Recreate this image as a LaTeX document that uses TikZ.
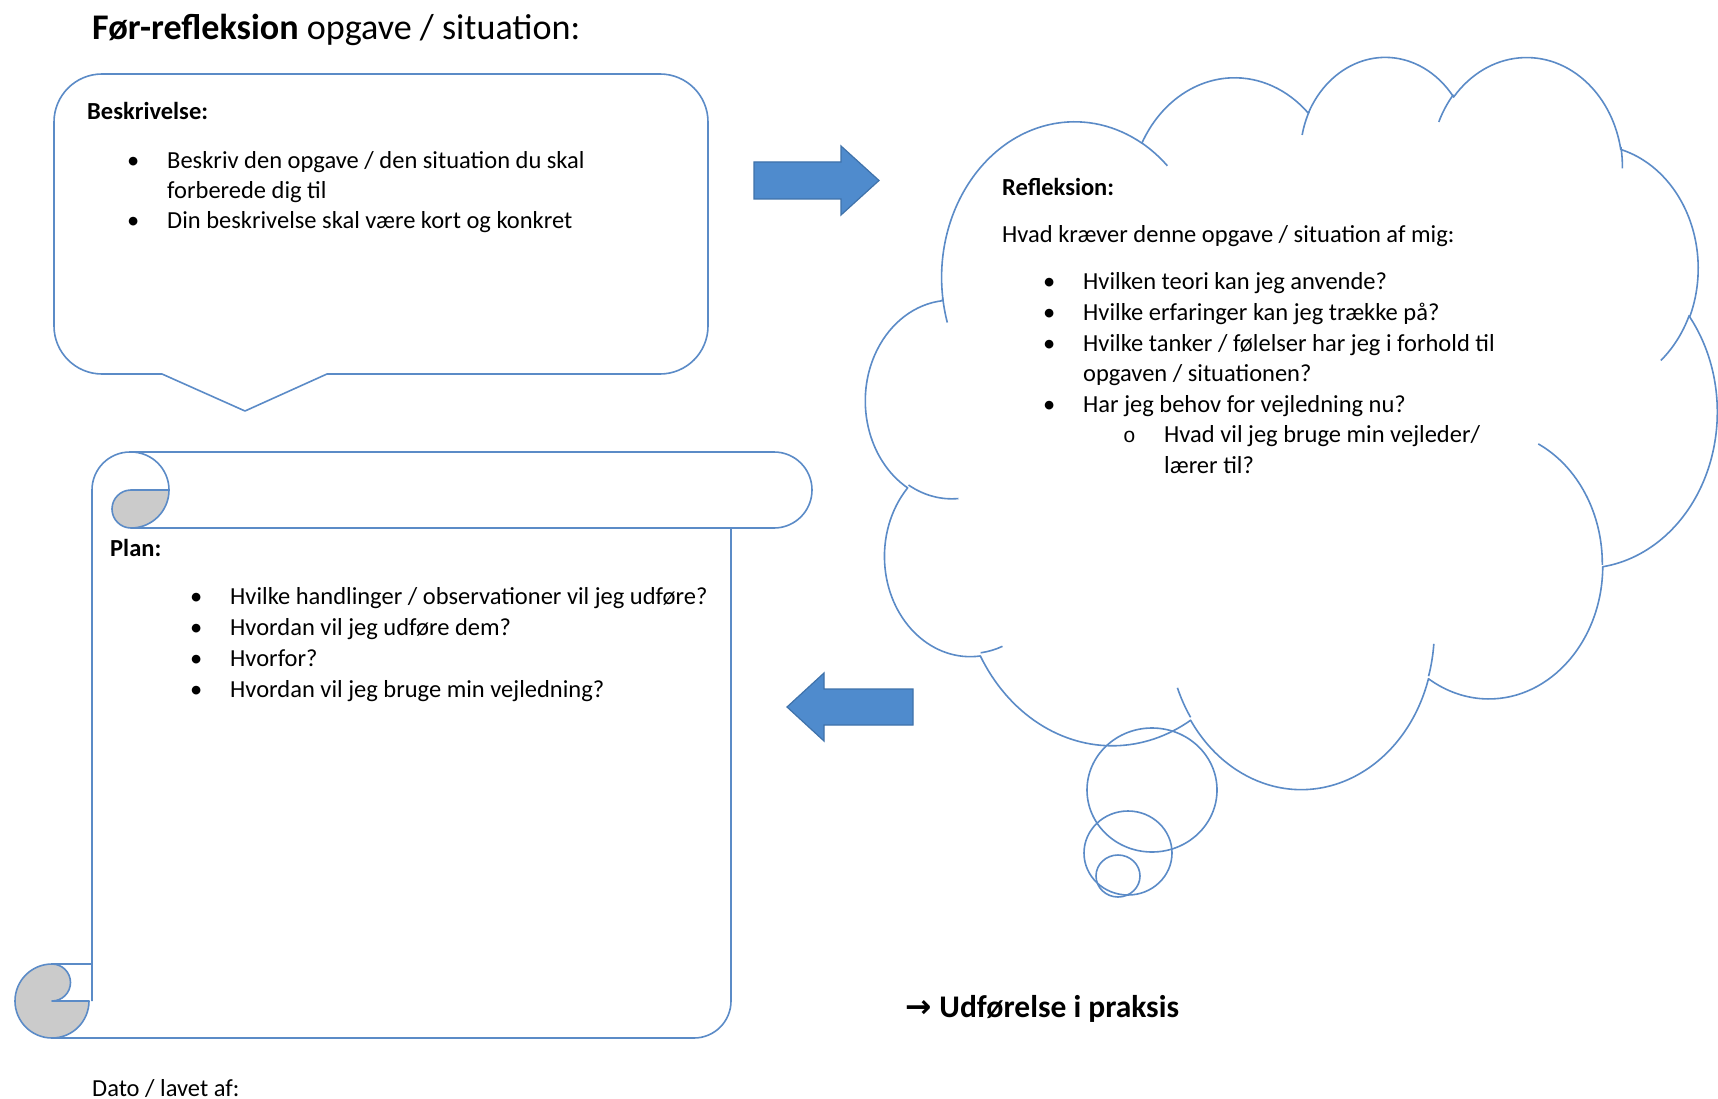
\documentclass[tikz,border=0pt]{standalone}
\usepackage{fontspec}
\setmainfont{Carlito}
\newfontfamily\monofnt{Liberation Mono}
\newfontfamily\symfnt{DejaVu Sans}
\definecolor{shapeline}{HTML}{5B8BC7}
\definecolor{arrowfill}{HTML}{4F8BCD}
\definecolor{arrowline}{HTML}{3F72AA}
\definecolor{rollgray}{HTML}{CBCBCB}
\newcommand\bodyfnt{\fontsize{24.5}{30}\selectfont}
% OOXML-style elliptic arc: wR, hR, visual start angle, visual sweep
\newcommand\carc[4]{arc[x radius=#1, y radius=#2, start angle={atan2(#1*sin(#3),#2*cos(#3))}, delta angle={mod(atan2(#1*sin((#3)+(#4)),#2*cos((#3)+(#4)))-atan2(#1*sin(#3),#2*cos(#3))+720,360)}]}
\tikzset{
  outline/.style={draw=shapeline, line width=1.6pt},
  blockarrow/.style={fill=arrowfill, draw=arrowline, line width=1.2pt, line join=miter},
  txt/.style={anchor=base west, inner sep=0pt, font=\bodyfnt},
  bul/.style={anchor=base west, inner sep=0pt, font=\bodyfnt},
}
\begin{document}
\begin{tikzpicture}[x=1pt,y=-1pt]
\fill[white] (0,0) rectangle (1718,1099);
\useasboundingbox (0,0) rectangle (1718,1099);
\clip (0,0) rectangle (1718,1099);

% ---------- title ----------
\node[anchor=base west, inner sep=0pt, font=\fontsize{36.1}{40}\selectfont] (title) at (92,40) {\textbf{Før-refleksion} opgave / situation:};

% ---------- speech bubble (Beskrivelse) ----------
\filldraw[outline, fill=white, line join=round]
  (102,74) -- (660,74) arc[start angle=-90, end angle=0, radius=48]
  -- (708,326) arc[start angle=0, end angle=90, radius=48]
  -- (327,374) -- (245,411) -- (162,374)
  -- (102,374) arc[start angle=90, end angle=180, radius=48]
  -- (54,122) arc[start angle=180, end angle=270, radius=48] -- cycle;
\node[txt] (beskhead) at (87,120) {\textbf{Beskrivelse:}};
\node[bul] (bb1) at (127,169) {•};
\node[txt] (bt1) at (167,169) {Beskriv den opgave / den situation du skal};
\node[txt] (bt1b) at (167,199) {forberede dig til};
\node[bul] (bb2) at (127,229) {•};
\node[txt] (bt2) at (167,229) {Din beskrivelse skal være kort og konkret};

% ---------- right block arrow ----------
\filldraw[blockarrow] (754,162) -- (841,162) -- (841,146) -- (879,180.5) -- (841,215) -- (841,199) -- (754,199) -- cycle;

% ---------- cloud ----------
\begin{scope}[shift={(866,55)}, xscale=851/4320, yscale=732/4320]
\filldraw[outline, fill=white, line join=round] (390,1437)
  \carc{675.3}{919.0}{-190.4875}{123.7805}
  \carc{533.3}{726.7}{-144.1024}{89.9452}
  \carc{436.5}{594.5}{-145.8079}{99.7230}
  \carc{485.7}{659.5}{-130.9861}{117.2417}
  \carc{533.3}{727.3}{-78.7089}{109.0269}
  \carc{677.5}{922.0}{-46.2673}{130.2690}
  \carc{578.5}{786.7}{0.6250}{114.0333}
  \carc{675.2}{921.5}{22.4516}{115.1726}
  \carc{772.0}{1054.3}{66.2426}{75.7110}
  \carc{436.0}{591.8}{-274.9421}{146.7356}
  \carc{434.5}{594.5}{-246.8285}{152.5189}
  -- cycle;
\draw[outline]
  (469.3,2617.7) \carc{434.5}{594.5}{86.7420}{26.4295}
  (692.8,3489.9) \carc{436.0}{591.8}{73.6105}{11.4475}
  (1647.8,3909.0) \carc{675.2}{921.5}{137.6242}{14.0811}
  (2882.7,3475.1) \carc{675.2}{921.5}{6.4533}{15.9984}
  (3412.9,2295.4) \carc{578.5}{786.7}{-70.2924}{70.9174}
  (4179.8,1535.4) \carc{533.3}{727.3}{30.3180}{27.7515}
  (3832.4,542.6) \carc{485.7}{659.5}{-13.7443}{14.8589}
  (2907.8,395.2) \carc{485.7}{659.5}{-149.1815}{18.1954}
  (2214.1,472.0) \carc{436.5}{594.5}{-163.4943}{17.6864}
  (1400.0,519.2) \carc{675.3}{919.0}{-66.7070}{12.3194}
  (412.7,1578.9) \carc{675.3}{919.0}{157.6544}{11.8582};
\end{scope}
\draw[outline] (1152,790) ellipse[x radius=65, y radius=62];
\draw[outline] (1128,853) ellipse[x radius=44, y radius=42];
\draw[outline] (1118,876) ellipse[x radius=22, y radius=21];

\node[txt] (refhead) at (1002,196) {\textbf{Refleksion:}};
\node[txt] (refq) at (1002,243) {Hvad kræver denne opgave / situation af mig:};
\node[bul] (rb1) at (1043,290) {•};
\node[txt] (rt1) at (1083,290) {Hvilken teori kan jeg anvende?};
\node[bul] (rb2) at (1043,320.5) {•};
\node[txt] (rt2) at (1083,320.5) {Hvilke erfaringer kan jeg trække på?};
\node[bul] (rb3) at (1043,351) {•};
\node[txt] (rt3) at (1083,351) {Hvilke tanker / følelser har jeg i forhold til};
\node[txt] (rt3b) at (1083,381.5) {opgaven / situationen?};
\node[bul] (rb4) at (1043,412) {•};
\node[txt] (rt4) at (1083,412) {Har jeg behov for vejledning nu?};
\node[anchor=base west, inner sep=0pt, font=\monofnt\fontsize{21}{26}\selectfont] (rsb) at (1123,442.5) {o};
\node[txt] (rs1) at (1164,442.5) {Hvad vil jeg bruge min vejleder/};
\node[txt] (rs1b) at (1164,473) {lærer til?};

% ---------- left block arrow ----------
\filldraw[blockarrow] (913,689) -- (824,689) -- (824,673) -- (787,707) -- (824,741) -- (824,725) -- (913,725) -- cycle;

% ---------- scroll (Plan) ----------
\fill[white] (92,490) -- (92,1038) -- (694,1038) arc[start angle=90, end angle=0, radius=37] -- (731,528) -- (774,528) arc[start angle=90, end angle=-90, radius=38] -- (131,452) arc[start angle=270, end angle=180, radius=38] -- cycle;
\draw[outline, line join=round]
  (92,1001) -- (92,490) arc[start angle=180, end angle=270, radius=38]
  -- (774,452) arc[start angle=-90, end angle=90, radius=38] -- (131,528);
\draw[outline] (131,452) arc[start angle=-90, end angle=0, radius=38];
\filldraw[outline, fill=rollgray, line join=round]
  (169,490) -- (131,490) arc[start angle=-90, end angle=-270, radius=19]
  arc[start angle=90, end angle=0, radius=38] -- cycle;
\draw[outline, line join=round] (731,528) -- (731,1001) arc[start angle=0, end angle=90, radius=37] -- (52,1038);
\draw[outline] (52,964) -- (92,964);
\filldraw[outline, fill=rollgray, line join=round]
  (52,964) arc[start angle=-90, end angle=-360, radius=37]
  -- (52,1001) arc[start angle=90, end angle=-90, radius=18.5] -- cycle;

\node[txt] (planhead) at (110,556) {\textbf{Plan:}};
\node[bul] (pb1) at (190,604) {•};
\node[txt] (pt1) at (230,604) {Hvilke handlinger / observationer vil jeg udføre?};
\node[bul] (pb2) at (190,635) {•};
\node[txt] (pt2) at (230,635) {Hvordan vil jeg udføre dem?};
\node[bul] (pb3) at (190,666) {•};
\node[txt] (pt3) at (230,666) {Hvorfor?};
\node[bul] (pb4) at (190,697) {•};
\node[txt] (pt4) at (230,697) {Hvordan vil jeg bruge min vejledning?};

% ---------- bottom texts ----------
\node[anchor=base west, inner sep=0pt, font=\fontsize{31.5}{35}\selectfont] (praksis) at (905,1017) {{\symfnt\bfseries →}\hspace{0.25em}\textbf{Udførelse i praksis}};
\node[txt] (dato) at (92,1096) {Dato / lavet af:};
\end{tikzpicture}
\end{document}
